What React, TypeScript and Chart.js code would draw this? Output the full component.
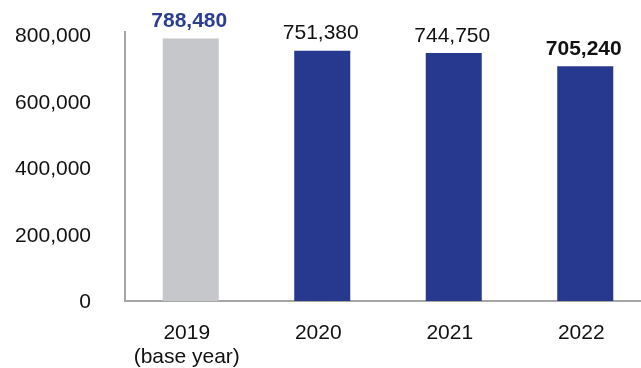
import React, { useEffect, useRef } from "react";
import { Chart, registerables } from "chart.js";

Chart.register(...registerables);

const categories: (string | string[])[] = [["2019", "(base year)"], "2020", "2021", "2022"];
const values = [788480, 751380, 744750, 705240];
const valueLabels = ["788,480", "751,380", "744,750", "705,240"];
const barColors = ["#C6C7CB", "#26398E", "#26398E", "#26398E"];
const labelColors = ["#2B3E92", "#111111", "#111111", "#111111"];
const labelWeights = ["bold", "normal", "normal", "bold"];
const yTicks = [0, 200000, 400000, 600000, 800000];

const FONT = "'Liberation Sans', Arial, Helvetica, sans-serif";

const valueLabelPlugin = {
  id: "valueLabels",
  afterDatasetsDraw(chart: any) {
    const meta = chart.getDatasetMeta(0);
    const ctx = chart.ctx;
    ctx.save();
    meta.data.forEach((bar: any, i: number) => {
      ctx.font = `${labelWeights[i]} 21px ${FONT}`;
      ctx.fillStyle = labelColors[i];
      ctx.textAlign = "center";
      ctx.textBaseline = "alphabetic";
      ctx.fillText(valueLabels[i], bar.x - 1.5, bar.y - 11.5);
    });
    ctx.restore();
  },
};

export default function App() {
  const ref = useRef<HTMLCanvasElement>(null);
  useEffect(() => {
    document.body.style.margin = "0";
    document.body.style.overflow = "hidden";
    const chart = new Chart(ref.current!, {
      type: "bar",
      data: {
        labels: categories,
        datasets: [
          {
            data: values,
            backgroundColor: barColors,
            borderWidth: 0,
            barPercentage: 0.426,
            categoryPercentage: 1,
          },
        ],
      },
      options: {
        responsive: false,
        animation: false,
        layout: { padding: { top: 32, right: 1, left: 0, bottom: 0 } },
        plugins: { legend: { display: false }, tooltip: { enabled: false } },
        scales: {
          x: {
            grid: { display: false, drawTicks: false, tickLength: 0 },
            border: { display: true, color: "#A6A6A6", width: 2 },
            ticks: {
              color: "#111111",
              font: { family: FONT, size: 21, lineHeight: 1.143 },
              padding: 20,
              labelOffset: -4,
              maxRotation: 0,
              autoSkip: false,
            },
            afterFit(scale: any) {
              scale.height = 67;
              scale.paddingLeft = 0;
              scale.paddingRight = 0;
            },
          },
          y: {
            min: 0,
            max: 808000,
            grid: { display: false, drawTicks: false, tickLength: 0 },
            border: { display: true, color: "#A6A6A6", width: 2 },
            ticks: {
              stepSize: 200000,
              color: "#111111",
              font: { family: FONT, size: 21 },
              padding: 34,
              labelOffset: 1.5,
              callback: (v: any) => Number(v).toLocaleString("en-US"),
            },
            afterBuildTicks(scale: any) {
              scale.ticks = yTicks.map((v) => ({ value: v }));
            },
            afterFit(scale: any) {
              scale.width = 125;
              scale.paddingTop = 0;
              scale.paddingBottom = 0;
            },
          },
        },
      },
      plugins: [valueLabelPlugin],
    });
    return () => chart.destroy();
  }, []);
  return (
    <div
      style={{
        position: "fixed",
        left: 0,
        top: 0,
        width: 641,
        height: 368,
        overflow: "hidden",
        background: "#fff",
      }}
    >
      <canvas ref={ref} width={652} height={368} style={{ width: 652, height: 368, display: "block" }} />
    </div>
  );
}
